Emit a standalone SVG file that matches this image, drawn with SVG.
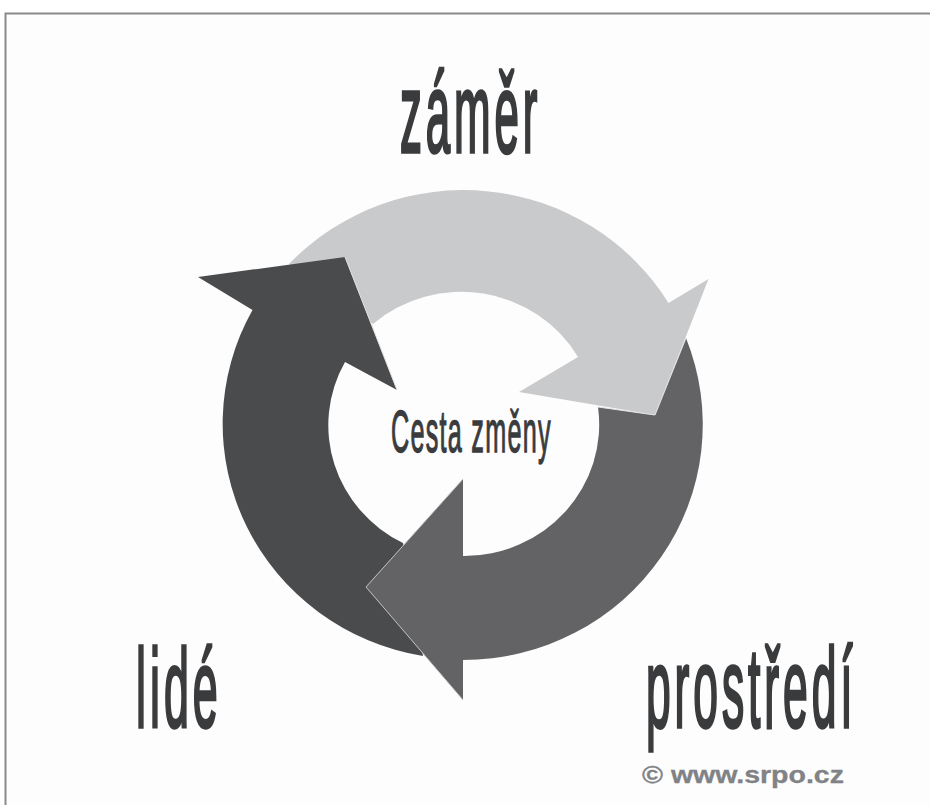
<svg xmlns="http://www.w3.org/2000/svg" width="930" height="805" viewBox="0 0 930 805">
<style>
.t{font-family:"Liberation Sans",Arial,sans-serif;fill:#3a3b3d;stroke:#3a3b3d;stroke-width:2.6;vector-effect:non-scaling-stroke;letter-spacing:10px}
.s{stroke-width:1;letter-spacing:3px}
.edge{fill:none;stroke-width:1}
</style>
<rect width="930" height="805" fill="#fff"/>
<rect x="6" y="14" width="924" height="791" fill="#fdfdfd"/>
<path d="M5.5 805V13.5H930" fill="none" stroke="#8a8a8a" stroke-width="2"/>
<g id="connectors">
<path id="arrow-light" d="M289 264A240 235.5 0 0 1 668.5 303L708.5 279L655 415L519 392L578 357A135 131.5 0 0 0 373 324Z" fill="#c9cacc"/>
<path id="arrow-dark" d="M198 277L345 257L397 390L345 362A135 131.5 0 0 0 403 543L423 656A240 235.5 0 0 1 252.5 310Z" fill="#4a4b4d"/>
<path id="arrow-mid" d="M686 338A240 235.5 0 0 1 463 660L463 700L366 587L463 479L463 556A135 131.5 0 0 0 598 407L655 415Z" fill="#636365"/>
<path class="edge" d="M463 479L366 587L463 700" stroke="#c4c4c4"/>
<path class="edge" d="M345 257L397 390" stroke="#e4e4e4"/>
<path class="edge" d="M598 407L655 415L686 338" stroke="#e4e4e4"/>
</g>
<g id="node-zamer"><text class="t" font-size="114" transform="translate(400 152) scale(.385 1)">záměr</text></g>
<g id="node-center"><text class="t s" font-size="60" transform="translate(391 452) scale(.42 1)">Cesta změny</text></g>
<g id="node-lide"><text class="t" font-size="112" transform="translate(136 727) scale(.4 1)">lidé</text></g>
<g id="node-prostredi"><text class="t" font-size="114" transform="translate(646 727) scale(.39 1)">prostředí</text></g>
<g id="credit"><text font-family="'Liberation Sans',Arial,sans-serif" font-weight="700" font-size="24" fill="#808285" stroke="#808285" stroke-width=".3" transform="translate(642 783) scale(1.187 1)">© www.srpo.cz</text></g>
</svg>
